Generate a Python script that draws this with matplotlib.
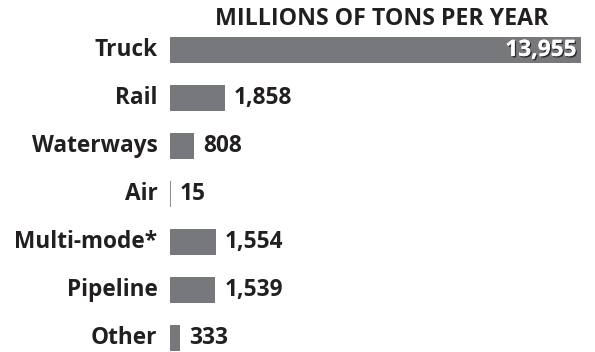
import matplotlib
matplotlib.use("Agg")
import matplotlib.pyplot as plt
import matplotlib.patheffects as pe

categories = ["Truck", "Rail", "Waterways", "Air", "Multi-mode*", "Pipeline", "Other"]
values = [13955, 1858, 808, 15, 1554, 1539, 333]
value_labels = ["13,955", "1,858", "808", "15", "1,554", "1,539", "333"]
title = "MILLIONS OF TONS PER YEAR"

BAR = "#77787b"
TEXT = "#231f20"
FONT = "Open Sans"
FS = 16.3

W, H = 595, 352
fig = plt.figure(figsize=(W / 100, H / 100), dpi=100)
left, right = 170 / W, 581 / W
ax = fig.add_axes([left, 0.0, right - left, (H - 26) / H])
ax.set_xlim(0, max(values))
ax.set_ylim(6.3, -0.5)
ax.axis("off")

ypos = list(range(len(categories)))
ax.barh(ypos, values, height=0.54, color=BAR, edgecolor="none")
# the smallest bar would vanish at this scale; draw it as a hairline
for y, v in zip(ypos, values):
    if v / max(values) * (right - left) * W < 1.5:
        ax.plot([0, 0], [y - 0.27, y + 0.27], color=BAR, lw=1.2, solid_capstyle="butt")

for y, cat, v, lab in zip(ypos, categories, values, value_labels):
    ax.annotate(cat, xy=(0, y), xytext=(-9, 0), textcoords="offset points",
                ha="right", va="center", fontsize=FS, fontweight="bold",
                family=FONT, color=TEXT)
    if y == 0:
        ax.annotate(lab, xy=(v, y), xytext=(-3, 0), textcoords="offset points",
                    ha="right", va="center", fontsize=FS, fontweight="bold",
                    family=FONT, color="white",
                    path_effects=[pe.withSimplePatchShadow(offset=(1, -1), shadow_rgbFace="#222222", alpha=0.9),
                                  pe.Normal()])
    else:
        ax.annotate(lab, xy=(v, y), xytext=(6.5, 0), textcoords="offset points",
                    ha="left", va="center", fontsize=FS, fontweight="bold",
                    family=FONT, color=TEXT)

fig.text(382 / W, 1 - 19 / H, title, ha="center", va="center", fontsize=16.7,
         fontweight="bold", family=FONT, color=TEXT)

fig.savefig("out.png", dpi=100, facecolor="white")
